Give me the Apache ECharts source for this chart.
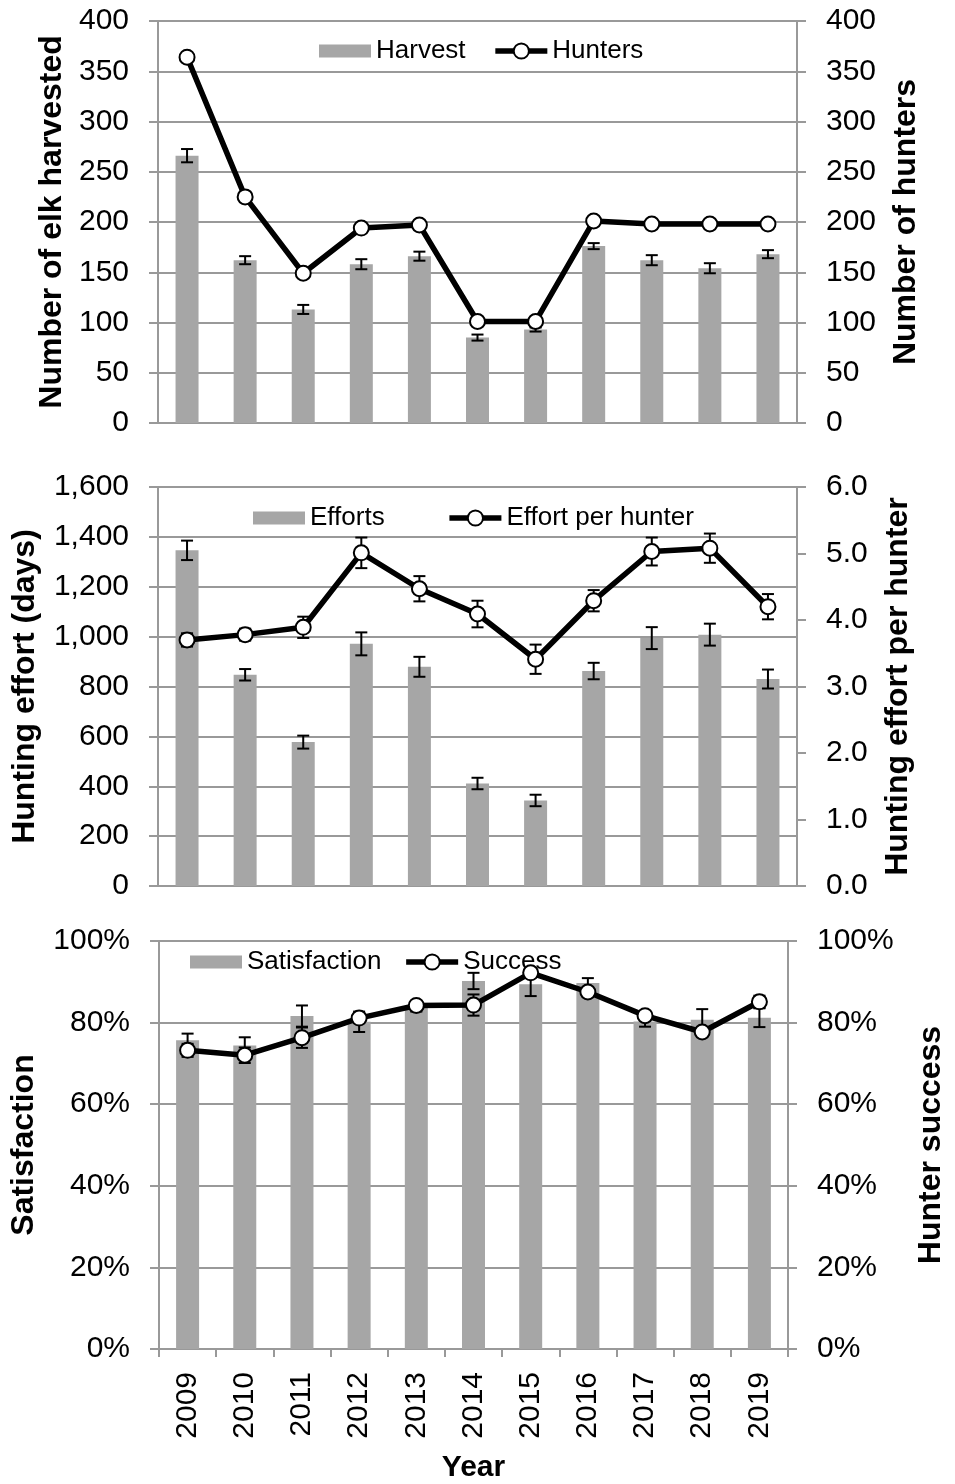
<!DOCTYPE html>
<html>
<head>
<meta charset="utf-8">
<title>Elk harvest</title>
<script src="https://cdn.jsdelivr.net/npm/echarts@6/dist/echarts.min.js"></script>
<style>
  html, body { margin: 0; padding: 0; background: #fff; }
  #chart { width: 955px; height: 1484px; }
</style>
</head>
<body>
<div id="chart"></div>
<script>
// data
const years = ['2009', '2010', '2011', '2012', '2013', '2014', '2015', '2016', '2017', '2018', '2019'];

const harvest = [266, 162, 113, 158, 166, 85, 93, 176, 162, 154, 168];
const harvestErr = [6.6, 4, 4.5, 5, 4.5, 3, 2, 3, 5, 5, 4];
const hunters = [364, 225, 149, 194, 197, 101, 101, 201, 198, 198, 198];

const efforts = [1346, 847, 577, 971, 879, 411, 343, 862, 994, 1008, 830];
const effortsErr = [39, 23, 26, 46, 40, 23, 23, 33, 44, 44, 38];
const effortPerHunter = [3.70, 3.78, 3.89, 5.01, 4.47, 4.09, 3.41, 4.29, 5.03, 5.08, 4.20];
const effortPerHunterErr = [0.10, 0.09, 0.16, 0.23, 0.19, 0.20, 0.22, 0.16, 0.21, 0.22, 0.19];

const satisfaction = [75.7, 74.4, 81.6, 80.2, 83.7, 90.2, 89.4, 89.7, 80.3, 80.7, 81.2];
const satisfactionErr = [1.6, 2.0, 2.6, 2.5, 1.0, 2.0, 2.9, 1.2, 1.3, 2.6, 2.3];
const success = [73.2, 72.0, 76.3, 81.1, 84.2, 84.3, 92.2, 87.5, 81.7, 77.7, 85.1];
const successErr = [1.6, 1.9, 2.5, 1.0, 1.0, 2.6, 1.0, 1.2, 1.0, 1.0, 1.5];

const FONT = 'Liberation Sans';
const GREY = '#999';
// flat 4:1 swatch for the bar entries (kept to aspect inside the legend box)
const BAR_ICON = 'path://M0,0 L52,0 L52,13 L0,13 Z';

let chart = echarts.init(document.getElementById('chart'), null, { renderer: 'canvas' });

// error bar drawn through the axis scales
function errorBar(params, api) {
    let x = api.value(0), v = api.value(1), e = api.value(2);
    let hi = api.coord([x, v + e]);
    let lo = api.coord([x, v - e]);
    let cap = 6;
    let st = { stroke: '#000', lineWidth: 2 };
    return {
        type: 'group',
        children: [
            { type: 'line', shape: { x1: hi[0], y1: hi[1], x2: lo[0], y2: lo[1] }, style: st },
            { type: 'line', shape: { x1: hi[0] - cap, y1: hi[1], x2: hi[0] + cap, y2: hi[1] }, style: st },
            { type: 'line', shape: { x1: lo[0] - cap, y1: lo[1], x2: lo[0] + cap, y2: lo[1] }, style: st }
        ]
    };
}

function errSeries(vals, errs, xi, yi, z) {
    return {
        type: 'custom',
        xAxisIndex: xi,
        yAxisIndex: yi,
        z: z,
        renderItem: errorBar,
        encode: { x: 0, y: 1 },
        data: vals.map((v, i) => [i, v, errs[i]]),
        silent: true
    };
}

function barSeries(name, vals, xi, yi) {
    return {
        name: name, type: 'bar', xAxisIndex: xi, yAxisIndex: yi, z: 2,
        barWidth: 23,
        itemStyle: { color: '#a6a6a6' },
        data: vals
    };
}

function lineSeries(name, vals, xi, yi) {
    return {
        name: name, type: 'line', xAxisIndex: xi, yAxisIndex: yi, z: 5,
        symbol: 'circle', symbolSize: 15,
        lineStyle: { color: '#000', width: 5.5 },
        itemStyle: { color: '#fff', borderColor: '#000', borderWidth: 2 },
        data: vals
    };
}

function xAx(gi, bottom) {
    return {
        type: 'category', gridIndex: gi, data: years, boundaryGap: true,
        axisLine: { show: true, lineStyle: { color: GREY, width: 2 } },
        axisTick: { show: bottom, length: 8, lineStyle: { color: GREY, width: 2 } },
        axisLabel: {
            show: bottom, rotate: 90, margin: 23,
            fontFamily: FONT, fontSize: 30, color: '#000'
        },
        name: bottom ? 'Year' : '',
        nameLocation: 'middle', nameGap: 104,
        nameTextStyle: { fontFamily: FONT, fontSize: 30, fontWeight: 'bold', color: '#000' }
    };
}

function yAx(gi, pos, min, max, interval, name, nameGap, fmt) {
    return {
        type: 'value', gridIndex: gi, position: pos,
        min: min, max: max, interval: interval,
        axisLine: { show: true, lineStyle: { color: GREY, width: 2 } },
        axisTick: { show: true, inside: false, length: 9, lineStyle: { color: GREY, width: 2 } },
        splitLine: { show: pos === 'left', lineStyle: { color: GREY, width: 2 } },
        axisLabel: {
            margin: 29,
            fontFamily: FONT, fontSize: 30, color: '#000',
            formatter: fmt
        },
        name: name, nameLocation: 'middle', nameGap: nameGap,
        nameTextStyle: { fontFamily: FONT, fontSize: 32, fontWeight: 'bold', color: '#000' }
    };
}

function legendAt(barName, lineName, left, top, gap) {
    return {
        data: [{ name: barName, icon: BAR_ICON }, lineName],
        left: left, top: top, itemGap: gap,
        itemWidth: 52, itemHeight: 19,
        lineStyle: { width: 5.5 },
        textStyle: { fontFamily: FONT, fontSize: 26, color: '#000' }
    };
}

let option = {
    animation: false,
    backgroundColor: '#fff',
    grid: [
        { left: 158, right: 158, top: 21, height: 402 },
        { left: 158, right: 158, top: 487, height: 399 },
        { left: 158, right: 158, top: 941, height: 408 }
    ],
    legend: [
        legendAt('Harvest', 'Hunters', 314, 33, 27),
        legendAt('Efforts', 'Effort per hunter', 248, 500, 62),
        legendAt('Satisfaction', 'Success', 185, 944, 22)
    ],
    xAxis: [xAx(0, false), xAx(1, false), xAx(2, true)],
    yAxis: [
        yAx(0, 'left', 0, 400, 50, 'Number of elk harvested', 90),
        yAx(0, 'right', 0, 400, 50, 'Number of hunters', 93),
        yAx(1, 'left', 0, 1600, 200, 'Hunting effort (days)', 117, v => v.toLocaleString('en-US')),
        yAx(1, 'right', 0, 6, 1, 'Hunting effort per hunter', 85, v => v.toFixed(1)),
        yAx(2, 'left', 0, 100, 20, 'Satisfaction', 119, '{value}%'),
        yAx(2, 'right', 0, 100, 20, 'Hunter success', 127, '{value}%')
    ],
    series: [
        barSeries('Harvest', harvest, 0, 0),
        errSeries(harvest, harvestErr, 0, 0, 3),
        lineSeries('Hunters', hunters, 0, 1),

        barSeries('Efforts', efforts, 1, 2),
        errSeries(efforts, effortsErr, 1, 2, 3),
        lineSeries('Effort per hunter', effortPerHunter, 1, 3),
        errSeries(effortPerHunter, effortPerHunterErr, 1, 3, 4),

        barSeries('Satisfaction', satisfaction, 2, 4),
        errSeries(satisfaction, satisfactionErr, 2, 4, 3),
        lineSeries('Success', success, 2, 5),
        errSeries(success, successErr, 2, 5, 4)
    ]
};

chart.setOption(option);
</script>
</body>
</html>
